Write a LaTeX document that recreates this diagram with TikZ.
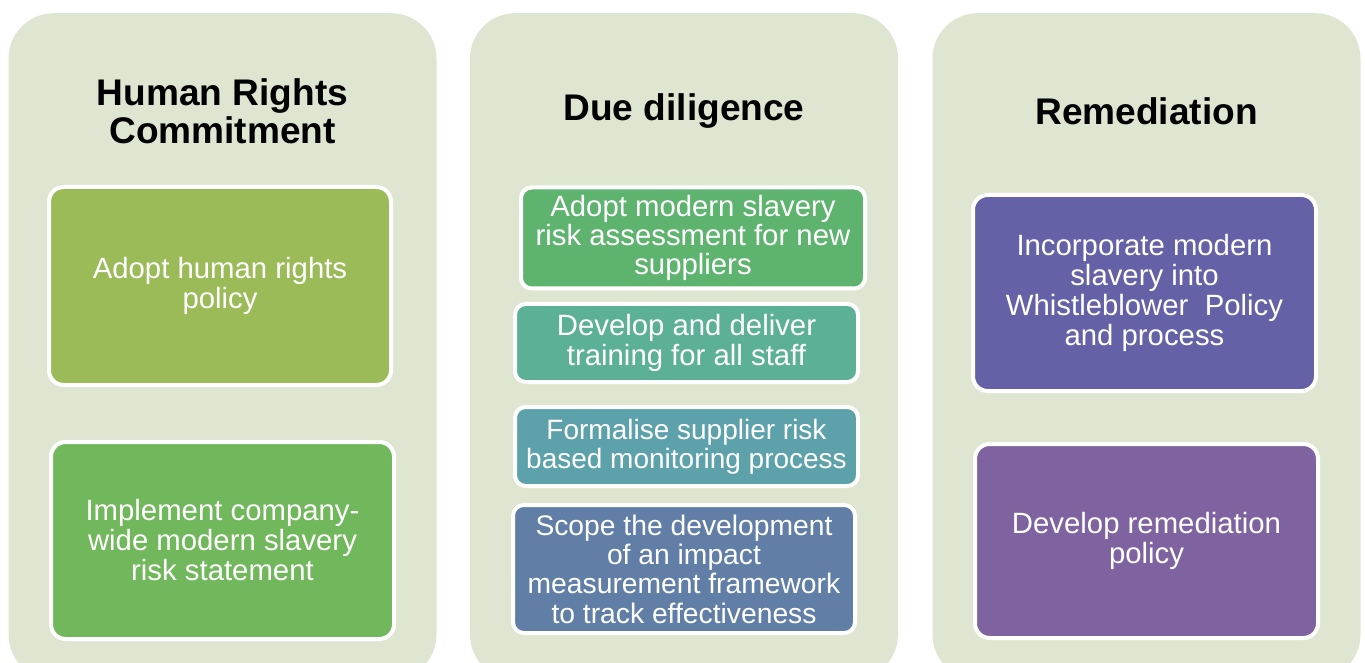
\documentclass[tikz,border=0pt]{standalone}
\usepackage{fontspec}
\setmainfont{Liberation Sans}
\definecolor{panelbg}{RGB}{222,230,210}
\definecolor{oliveA}{RGB}{155,187,89}
\definecolor{greenB}{RGB}{113,183,91}
\definecolor{greenC}{RGB}{94,180,111}
\definecolor{tealD}{RGB}{92,176,149}
\definecolor{tealE}{RGB}{93,162,170}
\definecolor{blueF}{RGB}{97,127,166}
\definecolor{violetG}{RGB}{100,97,166}
\definecolor{purpleH}{RGB}{127,99,160}

\begin{document}
\begin{tikzpicture}
[x=0.75pt,y=-0.75pt,
  panelDecorate/.style={shape=rectangle,fill=panelbg,rounded corners=34pt,
    minimum width=321pt,minimum height=500pt,inner sep=0pt},%
  headDecorate/.style={align=center,font=\fontsize{27.8}{28.5}\selectfont\bfseries},%
  itemDecorate/.style={shape=rectangle,draw=white,line width=3pt,
    rounded corners=11pt,text=white,align=center,inner sep=0pt,
    font=\fontsize{22}{22.5}\selectfont},%
  tightDecorate/.style={rounded corners=8pt}]
\useasboundingbox (0,0) rectangle (1365,663);
%% panels and headings
\foreach \panelname/\x/\title in {
  hrc/222.5/{Human Rights\\Commitment},
  dd/684/{Due diligence},
  rem/1146.5/{Remediation}}
{
  \node (\panelname) at (\x,346.5) [panelDecorate] {};
  \node (\panelname head) at (\x,111) [headDecorate] {\title};
}
%% boxes of the outer columns
\foreach \boxname/\x/\y/\w/\h/\col/\txt in {
  hrc1/220/286/342/198/oliveA/{Adopt human rights\\policy},
  hrc2/222.5/540.5/343/197/greenB/{Implement company-\\wide modern slavery\\risk statement},
  rem1/1144.5/293/343/196/violetG/{Incorporate modern\\slavery into\\Whistleblower\ \ Policy\\and process},
  rem2/1146.5/541/343/194/purpleH/{Develop remediation\\policy}}
{
  \node (\boxname) at (\x,\y) [itemDecorate,fill=\col,
    minimum width=\w*0.75pt,minimum height=\h*0.75pt] {\txt};
}
%% boxes of the middle column
\foreach \boxname/\x/\y/\w/\h/\s/\col/\txt in {
  dd1/693/238/344/101/22/greenC/{Adopt modern slavery\\risk assessment for new\\suppliers},
  dd2/686.5/343/343/78/22/tealD/{Develop and deliver\\training for all staff},
  dd3/686.5/446.5/343/79/21/tealE/{Formalise supplier risk\\based monitoring process},
  dd4/684/569/342/128/21.2/blueF/{Scope the development\\of an impact\\measurement framework\\to track effectiveness}}
{
  \node (\boxname) at (\x,\y) [itemDecorate,tightDecorate,fill=\col,
    minimum width=\w*0.75pt,minimum height=\h*0.75pt,
    font=\fontsize{\s}{22}\selectfont] {\txt};
}
\end{tikzpicture}
\end{document}
